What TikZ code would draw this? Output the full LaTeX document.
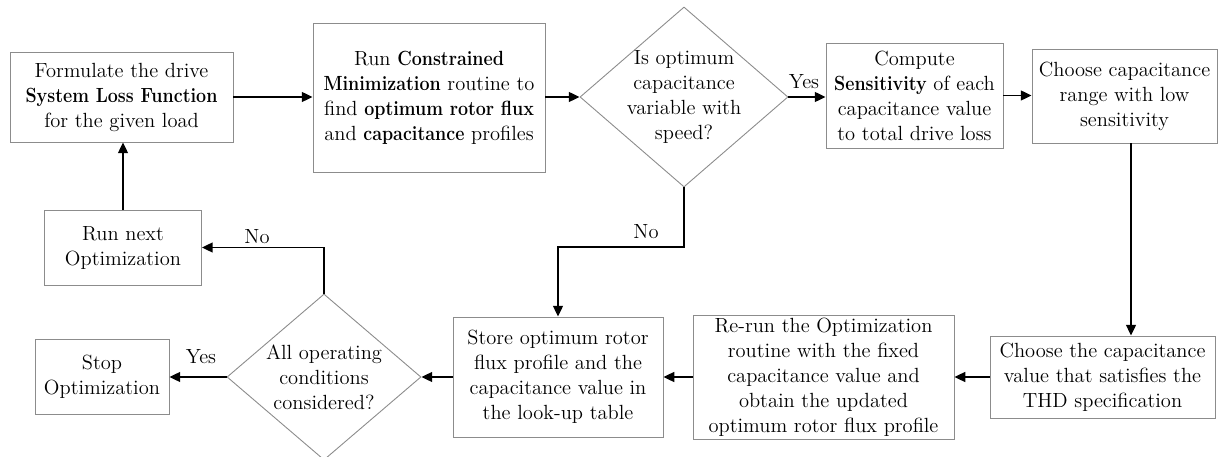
\documentclass[tikz,border=0pt]{standalone}
\usepackage{fontspec}
\setmainfont{Latin Modern Roman}[BoldFeatures={FakeStretch=0.872}]
\usetikzlibrary{shapes.geometric,arrows.meta}
\begin{document}
\begin{tikzpicture}[x=0.556pt,y=-0.556pt,
  every node/.style={font=\fontsize{11.4}{13.9}\selectfont, align=center},
  box/.style 2 args={draw=black!45, line width=0.5pt, minimum width=#1*0.556pt, minimum height=#2*0.556pt, inner sep=0pt},
  dia/.style 2 args={draw=black!45, line width=0.5pt, diamond, minimum width=#1*0.556pt, minimum height=#2*0.556pt, inner sep=0pt},
  arr/.style={-{Triangle[length=6pt,width=5.5pt]}, line width=1pt},
  lbl/.style={inner sep=0pt}]
\useasboundingbox (0,0) rectangle (1222,457);

\node[box={223}{90}] (b1) at (121.5,97) {Formulate the drive\\ \textbf{System Loss Function}\\ for the given load};
\node[box={232}{149}] (b2) at (429,97.5) {Run \textbf{Constrained}\\ \textbf{Minimization} routine to\\ find \textbf{optimum rotor flux}\\ and \textbf{capacitance} profiles};
\node[dia={208}{180}] (d1) at (684,97) {};
\node (d1t) at (d1) {Is optimum\\ capacitance\\ variable with\\ speed?};
\node[box={177}{105}] (cp) at (914.5,95.5) {Compute\\ \textbf{Sensitivity} of each\\ capacitance value\\ to total drive loss};
\node[box={185}{94}] (cr) at (1124.5,96) {Choose capacitance\\ range with low\\ sensitivity};

\node[box={225}{82}] (thd) at (1102.5,377) {Choose the capacitance\\ value that satisfies the\\ THD specification};
\node[box={261}{124}] (rr) at (823.5,377) {Re-run the Optimization\\ routine with the fixed\\ capacitance value and\\ obtain the updated\\ optimum rotor flux profile};
\node[box={210}{120}] (st) at (558,377) {Store optimum rotor\\ flux profile and the\\ capacitance value in\\ the look-up table};
\node[dia={194}{166}] (d2) at (324,377) {};
\node (d2t) at (d2) {All operating\\ conditions\\ considered?};
\node[box={134}{75}] (sp) at (102,377) {Stop\\ Optimization};
\node[box={157}{75}] (rn) at (123,247.5) {Run next\\ Optimization};

\coordinate (nolevel) at (0,247);
\coordinate (vx) at (1131,0);

\draw[arr] (b1.east) -- (b1.east -| b2.west);
\draw[arr] (b2.east |- d1.west) -- (d1.west);
\draw[arr] (d1.east) -- (d1.east -| cp.west);
\draw[arr] (cp.east) -- (cp.east -| cr.west);
\draw[arr] (vx |- cr.south) -- (vx |- thd.north);
\draw[arr] (thd.west) -- (rr.east);
\draw[arr] (rr.west) -- (st.east);
\draw[arr] (st.west) -- (d2.east);
\draw[arr] (d2.west) -- (sp.east);
\draw[arr] (d2.north) |- (rn.east);
\draw[arr] (rn.north) -- (rn.north |- b1.south);
\draw[arr] (d1.south) -- (d1.south |- nolevel) -| (st.north);

\node[lbl] (yes1) at (804,82) {Yes};
\node[lbl] (no1) at (646,232) {No};
\node[lbl] (yes2) at (201,357) {Yes};
\node[lbl] (no2) at (257,237) {No};
\end{tikzpicture}
\end{document}
